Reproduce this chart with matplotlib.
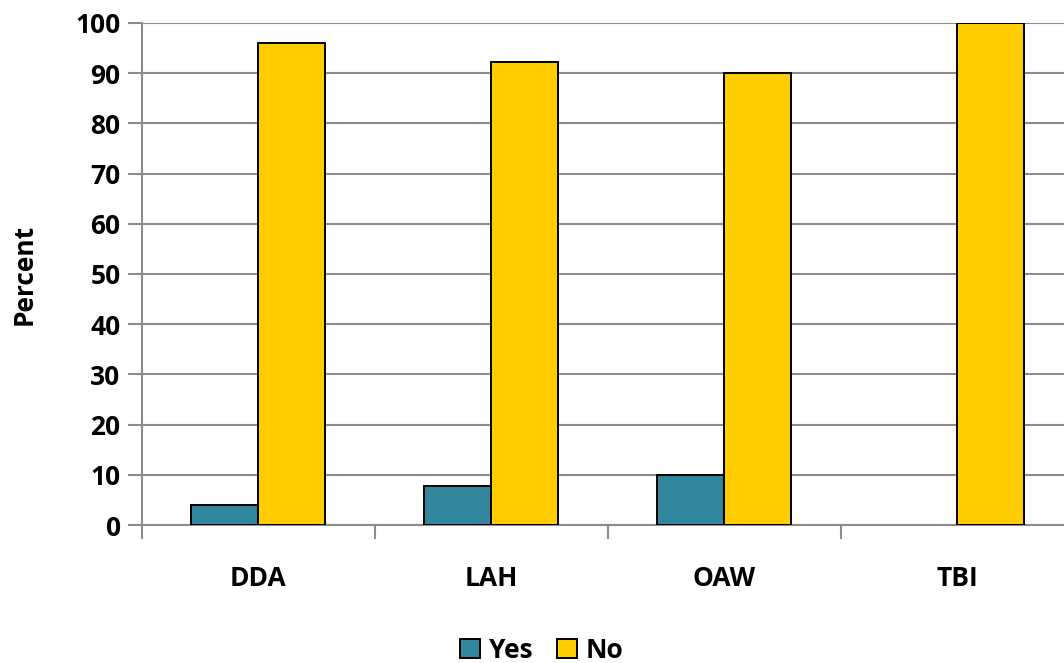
import numpy as np
import matplotlib.pyplot as plt
from matplotlib.ticker import FixedLocator

categories = ['DDA', 'LAH', 'OAW', 'TBI']
yes_vals = [3.9, 7.7, 10.0, 0.0]
no_vals = [96.1, 92.3, 90.0, 100.0]

plt.rcParams['font.family'] = ['Open Sans', 'DejaVu Sans']
plt.rcParams['font.weight'] = 'bold'

fig = plt.figure(figsize=(10.64, 6.63), dpi=100)
ax = fig.add_axes([141.5 / 1064, 1 - 525 / 663, 1 - 141.5 / 1064, (525 - 23) / 663])

x = np.arange(len(categories)) + 0.5
w = 0.287
grey = '#8c8c8c'
fs = 19
ax.bar(x - w / 2, yes_vals, w, color='#31859C', edgecolor='black',
       linewidth=[1.4 if v > 0 else 0 for v in yes_vals], label='Yes', zorder=3)
ax.bar(x + w / 2, no_vals, w, color='#FFCC00', edgecolor='black',
       linewidth=[1.4 if v > 0 else 0 for v in no_vals], label='No', zorder=3)

ax.set_xlim(0, (1064 - 141.5) / 233)
ax.set_ylim(0, 100)
ax.set_yticks(np.arange(0, 101, 10))
ax.yaxis.grid(True, color=grey, linewidth=1.5, zorder=0)
ax.tick_params(axis='y', length=10, width=1.5, color=grey, labelsize=fs, pad=5)

ax.xaxis.set_major_locator(FixedLocator([0, 1, 2, 3]))
ax.set_xticklabels([])
ax.xaxis.set_minor_locator(FixedLocator(x))
ax.set_xticklabels(categories, minor=True)
ax.tick_params(axis='x', which='major', length=10, width=1.5, color=grey)
ax.tick_params(axis='x', which='minor', length=0, labelsize=fs, pad=29)

for s in ['top', 'right']:
    ax.spines[s].set_visible(False)
for s in ['left', 'bottom']:
    ax.spines[s].set_color(grey)
    ax.spines[s].set_linewidth(1.5)

ax.set_ylabel('Percent', fontsize=fs, fontweight='bold', labelpad=27)

leg = fig.legend(loc='center', bbox_to_anchor=(542 / 1064, 1 - 650 / 663), ncol=2, frameon=False,
                 fontsize=fs, handlelength=0.75, handleheight=0.75, handletextpad=0.35, columnspacing=0.9)
for h in leg.legend_handles:
    h.set_linewidth(1.4)

fig.savefig('out.png', dpi=100)
